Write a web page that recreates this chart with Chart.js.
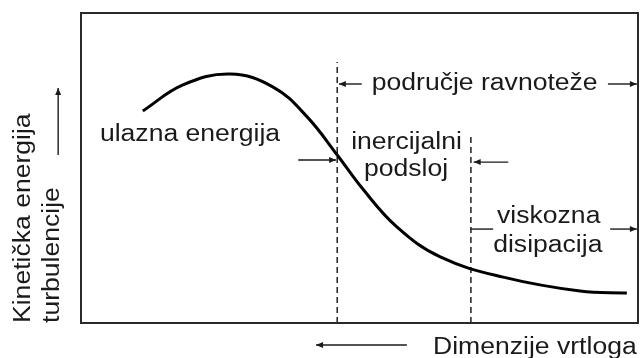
<!DOCTYPE html>
<html>
<head>
<meta charset="utf-8">
<script src="https://cdn.jsdelivr.net/npm/chart.js@4/dist/chart.umd.min.js"></script>
<style>
  html, body { margin: 0; padding: 0; background: #ffffff; }
  canvas { display: block; }
</style>
</head>
<body>
<canvas id="c" width="640" height="358"></canvas>
<script>
// Energy spectrum curve (arbitrary units, 0-100 on both axes)
const curveX = [11.1, 18.3, 26.8, 34.5, 40.6, 46.0, 50.6, 56.7, 64.5, 75.8, 89.6, 98.0];
const curveY = [68.4, 76.8, 80.3, 76.1, 66.5, 54.2, 43.2, 31.0, 21.3, 14.8, 10.3, 9.7];

// Region boundaries (dashed lines)
const dividerX = [46, 70];
const dividerTop = [84.2, 61.3];

// Texts
const yTitleLines = ["Kinetička energija", "turbulencije"];
const xTitle = "Dimenzije vrtloga";
const regionLabels = ["ulazna energija", "područje ravnoteže", "inercijalni", "podsloj", "viskozna", "disipacija"];

const curveData = curveX.map((x, i) => ({ x: x, y: curveY[i] }));
const dividerSets = dividerX.map((x, i) => ({
  data: [{ x: x, y: 0 }, { x: x, y: dividerTop[i] }],
  borderColor: '#2e2e2e',
  borderWidth: 1.6,
  borderDash: [6, 4],
  pointRadius: 0,
  showLine: true,
  tension: 0
}));

const FONT = '23.5px "Liberation Sans", Arial, sans-serif';
const STRETCH = 1.13;
const INK = '#1a1a1a';

const annot = {
  id: 'annot',
  afterDraw(chart) {
    const ctx = chart.ctx;
    const xs = chart.scales.x, ys = chart.scales.y;
    const X = v => xs.getPixelForValue(v);
    const Y = v => ys.getPixelForValue(v);
    const a = chart.chartArea;

    // frame
    ctx.save();
    ctx.strokeStyle = '#2a2a2a';
    ctx.lineWidth = 2;
    ctx.strokeRect(a.left, a.top, a.right - a.left, a.bottom - a.top);
    ctx.restore();

    function text(str, x, y) {
      ctx.save();
      ctx.font = FONT;
      ctx.fillStyle = INK;
      ctx.textBaseline = 'alphabetic';
      ctx.textAlign = 'left';
      ctx.translate(X(x), Y(y));
      ctx.scale(STRETCH, 1);
      ctx.fillText(str, 0, 0);
      ctx.restore();
    }
    function vtext(str, x, y) {
      ctx.save();
      ctx.font = FONT;
      ctx.fillStyle = INK;
      ctx.textBaseline = 'alphabetic';
      ctx.textAlign = 'left';
      ctx.translate(X(x), Y(y));
      ctx.rotate(-Math.PI / 2);
      ctx.scale(STRETCH, 1);
      ctx.fillText(str, 0, 0);
      ctx.restore();
    }
    function arrow(x1, y1, x2, y2, head) {
      const p1 = [X(x1), Y(y1)], p2 = [X(x2), Y(y2)];
      ctx.save();
      ctx.strokeStyle = INK;
      ctx.fillStyle = INK;
      ctx.lineWidth = 1.4;
      ctx.beginPath();
      ctx.moveTo(p1[0], p1[1]);
      ctx.lineTo(p2[0], p2[1]);
      ctx.stroke();
      if (head) {
        const ang = Math.atan2(p2[1] - p1[1], p2[0] - p1[0]);
        const L = 7, W = 3;
        ctx.beginPath();
        ctx.moveTo(p2[0], p2[1]);
        ctx.lineTo(p2[0] - L * Math.cos(ang) + W * Math.sin(ang), p2[1] - L * Math.sin(ang) - W * Math.cos(ang));
        ctx.lineTo(p2[0] - L * Math.cos(ang) - W * Math.sin(ang), p2[1] - L * Math.sin(ang) + W * Math.cos(ang));
        ctx.closePath();
        ctx.fill();
      }
      ctx.restore();
    }

    text(regionLabels[0], 3.4, 58.7);
    text(regionLabels[1], 52.2, 75.2);
    text(regionLabels[2], 48.5, 56.1);
    text(regionLabels[3], 50.8, 47.4);
    text(regionLabels[4], 74.7, 32.3);
    text(regionLabels[5], 74.0, 22.9);
    text(xTitle, 63.2, -10.0);

    vtext(yTitleLines[0], -9.2, 0);
    vtext(yTitleLines[1], -3.9, 0);

    arrow(50.4, 77.1, 46.3, 77.1, true);
    arrow(94.6, 77.1, 99.8, 77.1, true);
    arrow(39.0, 52.6, 45.8, 52.6, true);
    arrow(76.7, 51.9, 70.5, 51.9, true);
    arrow(70.0, 30.3, 74.0, 30.3, false);
    arrow(95.0, 30.3, 99.8, 30.3, true);
    arrow(58.5, -7.1, 42.2, -7.1, true);
    arrow(-4.1, 54.2, -4.1, 75.8, true);
  }
};

new Chart(document.getElementById('c'), {
  type: 'scatter',
  data: {
    datasets: [
      {
        data: curveData,
        borderColor: '#000000',
        borderWidth: 3,
        pointRadius: 0,
        showLine: true,
        tension: 0.4
      },
      ...dividerSets
    ]
  },
  options: {
    responsive: false,
    devicePixelRatio: 1,
    animation: false,
    layout: { padding: { left: 81, top: 13, right: 2, bottom: 35 } },
    plugins: { legend: { display: false }, tooltip: { enabled: false } },
    scales: {
      x: { type: 'linear', min: 0, max: 100, display: false },
      y: { type: 'linear', min: 0, max: 100, display: false }
    }
  },
  plugins: [annot]
});
</script>
</body>
</html>
